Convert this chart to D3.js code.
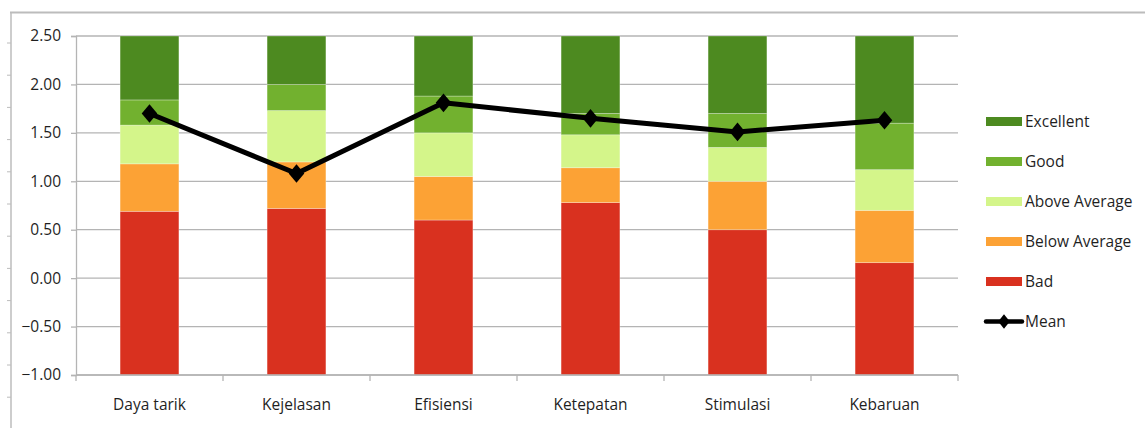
<!DOCTYPE html>
<html>
<head>
<meta charset="utf-8">
<script src="https://cdn.jsdelivr.net/npm/d3@7"></script>
<style>
  html, body { margin: 0; padding: 0; background: #fff; }
  svg { display: block; }
  text { font-family: "Open Sans", "Noto Sans", sans-serif; fill: #1f1f1f; }
</style>
</head>
<body>
<svg id="chart" width="1145" height="428"></svg>
<script>
// Scale categories
const categories = ["Daya tarik", "Kejelasan", "Efisiensi", "Ketepatan", "Stimulasi", "Kebaruan"];

// Upper boundary of each benchmark band per scale (bands start at the axis minimum)
const bad          = [0.69, 0.72, 0.60, 0.78, 0.50, 0.16];
const belowAverage = [1.18, 1.20, 1.05, 1.14, 1.00, 0.70];
const aboveAverage = [1.58, 1.73, 1.50, 1.48, 1.35, 1.12];
const good         = [1.84, 2.00, 1.88, 1.70, 1.70, 1.60];
const excellent    = [2.50, 2.50, 2.50, 2.50, 2.50, 2.50];

// Observed mean per scale
const mean = [1.70, 1.08, 1.81, 1.65, 1.51, 1.63];

const yTicks = [-1.0, -0.5, 0.0, 0.5, 1.0, 1.5, 2.0, 2.5];

const bands = [
  { name: "Bad",           values: bad,          color: "#d9311f" },
  { name: "Below Average", values: belowAverage, color: "#fca235" },
  { name: "Above Average", values: aboveAverage, color: "#d4f58a" },
  { name: "Good",          values: good,         color: "#72b12f" },
  { name: "Excellent",     values: excellent,    color: "#4d8a20" }
];

const svg = d3.select("#chart");
const plot = { left: 76, right: 958, top: 36, bottom: 375 };
const gridColor = "#b4b4b4";
const fontSize = "15.5px";

// Sheet frame: top rule and left ruler
svg.append("line").attr("x1", 10).attr("x2", 1145).attr("y1", 12.5).attr("y2", 12.5)
  .attr("stroke", "#bcbcbc").attr("stroke-width", 2);
svg.append("line").attr("x1", 11).attr("x2", 11).attr("y1", 12).attr("y2", 428)
  .attr("stroke", "#bcbcbc").attr("stroke-width", 1.5);
svg.append("g").selectAll("line").data(d3.range(12)).join("line")
  .attr("x1", 7).attr("x2", 11)
  .attr("y1", i => 43 + i * 32.2).attr("y2", i => 43 + i * 32.2)
  .attr("stroke", "#bcbcbc").attr("stroke-width", 1);

const x = d3.scaleBand().domain(categories)
  .range([plot.left, plot.right]).paddingInner(0.6).paddingOuter(0.3);
const y = d3.scaleLinear().domain([-1, 2.5]).range([plot.bottom, plot.top]);

// Gridlines
svg.append("g").selectAll("line").data(yTicks).join("line")
  .attr("x1", plot.left).attr("x2", plot.right)
  .attr("y1", d => y(d)).attr("y2", d => y(d))
  .attr("stroke", gridColor).attr("stroke-width", 1.3);

// Stacked benchmark bands
const segments = [];
categories.forEach((c, i) => {
  let lower = -1;
  bands.forEach(b => {
    segments.push({ cat: c, y0: lower, y1: b.values[i], color: b.color });
    lower = b.values[i];
  });
});
svg.append("g").selectAll("rect").data(segments).join("rect")
  .attr("x", d => x(d.cat))
  .attr("width", x.bandwidth())
  .attr("y", d => y(d.y1))
  .attr("height", d => y(d.y0) - y(d.y1))
  .attr("fill", d => d.color)
  .attr("stroke", "rgba(255,255,255,0.35)")
  .attr("stroke-width", 0.8);

// Y axis
const yAxis = svg.append("g").attr("transform", `translate(${plot.left},0)`)
  .call(d3.axisLeft(y).tickValues(yTicks).tickFormat(d3.format(".2f")).tickSize(5).tickPadding(10));
yAxis.select(".domain").attr("stroke", gridColor).attr("stroke-width", 1.3);
yAxis.selectAll(".tick line").attr("stroke", gridColor).attr("stroke-width", 1.3);
yAxis.selectAll("text").style("font-size", fontSize).attr("fill", "#1f1f1f");

// X axis baseline, tick marks at category boundaries, labels
svg.append("line").attr("x1", plot.left).attr("x2", plot.right)
  .attr("y1", plot.bottom).attr("y2", plot.bottom)
  .attr("stroke", gridColor).attr("stroke-width", 1.3);
const boundaries = categories.map(c => x(c) - x.step() * 0.3).concat([plot.right]);
svg.append("g").selectAll("line").data(boundaries).join("line")
  .attr("x1", d => d).attr("x2", d => d)
  .attr("y1", plot.bottom).attr("y2", plot.bottom + 6)
  .attr("stroke", gridColor).attr("stroke-width", 1.3);
svg.append("g").selectAll("text").data(categories).join("text")
  .attr("x", d => x(d) + x.bandwidth() / 2)
  .attr("y", 410)
  .attr("text-anchor", "middle")
  .style("font-size", fontSize)
  .text(d => d);

// Mean line with diamond markers
const cx = (d, i) => x(categories[i]) + x.bandwidth() / 2;
const line = d3.line().x((d, i) => cx(d, i)).y(d => y(d));
svg.append("path").datum(mean).attr("d", line)
  .attr("fill", "none").attr("stroke", "#000").attr("stroke-width", 5)
  .attr("stroke-linejoin", "round");
const diamond = d3.symbol().type(d3.symbolDiamond).size(100);
svg.append("g").selectAll("path").data(mean).join("path")
  .attr("d", diamond)
  .attr("transform", (d, i) => `translate(${cx(d, i)},${y(d)}) scale(1.45,1)`)
  .attr("fill", "#000");

// Legend
const legendItems = bands.slice().reverse().map(b => ({ name: b.name, color: b.color }))
  .concat([{ name: "Mean", line: true }]);
const lg = svg.append("g");
legendItems.forEach((it, i) => {
  const cy = 121.5 + i * 40;
  if (it.line) {
    lg.append("line").attr("x1", 986).attr("x2", 1022).attr("y1", cy).attr("y2", cy)
      .attr("stroke", "#000").attr("stroke-width", 4.5).attr("stroke-linecap", "round");
    lg.append("path").attr("d", d3.symbol().type(d3.symbolDiamond).size(60))
      .attr("transform", `translate(1004,${cy}) scale(1.4,1)`).attr("fill", "#000");
  } else {
    lg.append("rect").attr("x", 986).attr("y", cy - 4.5).attr("width", 36).attr("height", 9)
      .attr("fill", it.color);
  }
  lg.append("text").attr("x", 1025).attr("y", cy).attr("dy", "0.35em")
    .style("font-size", fontSize).text(it.name);
});
</script>
</body>
</html>
